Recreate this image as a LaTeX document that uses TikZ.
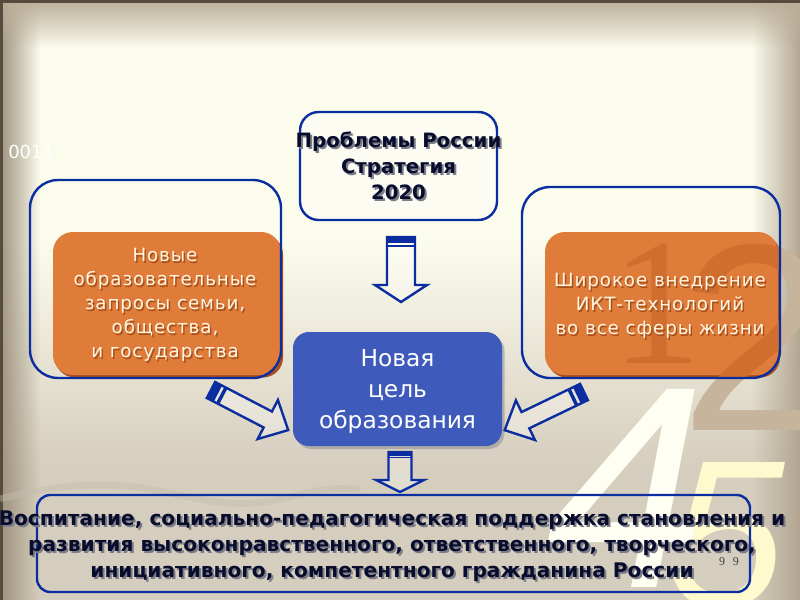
\documentclass[tikz,border=0pt]{standalone}
\usepackage{fontspec}
\setmainfont{DejaVu Sans}
\newfontfamily\digfont{Liberation Sans}
\newfontfamily\serfont{Liberation Serif}
\newfontfamily\orfont[LetterSpace=5]{DejaVu Sans}
\usetikzlibrary{fadings}
\definecolor{cream}{RGB}{252,252,237}
\definecolor{bgbot}{RGB}{213,205,189}
\definecolor{edgeL}{RGB}{158,146,126}
\definecolor{edgeR}{RGB}{178,166,146}
\definecolor{edgeT}{RGB}{186,174,152}
\definecolor{frameDark}{RGB}{85,75,62}
\definecolor{bblue}{RGB}{12,45,160}
\definecolor{cblue}{RGB}{62,90,186}
\definecolor{orangeC}{RGB}{223,124,58}
\definecolor{orangeD}{RGB}{208,110,48}
\definecolor{orangeS}{RGB}{168,80,28}
\definecolor{navy}{RGB}{8,12,45}
\definecolor{tshadow}{RGB}{125,125,135}
\definecolor{otext}{RGB}{255,246,226}
\definecolor{tan}{RGB}{198,181,156}
\definecolor{lightdig}{RGB}{255,254,242}
\definecolor{yellowdig}{RGB}{255,250,205}
\definecolor{wavecol}{RGB}{196,188,172}
\tikzfading[name=fadeR, left color=transparent!0, right color=transparent!100]
\tikzfading[name=fadeL, left color=transparent!100, right color=transparent!0]
\tikzfading[name=fadeD, top color=transparent!0, bottom color=transparent!100]
\tikzset{
  outl/.style={draw=bblue, line width=1.8pt, inner sep=0pt},
  arrowline/.style={draw=bblue, line width=1.8pt, line join=miter},
  boldtext/.style={font={\bfseries\fontsize{14.8}{19.5}\selectfont}, align=center, inner sep=0pt},
  bigboldtext/.style={font={\bfseries\fontsize{15.1}{19.5}\selectfont}, align=center, inner sep=0pt},
  orangetext/.style={font={\orfont\fontsize{13.7}{18}\selectfont}, align=center, inner sep=0pt},
  centertext/.style={font={\fontsize{17.5}{23.2}\selectfont}, align=center, inner sep=0pt},
  digit/.style={inner sep=0pt, anchor=base west}
}
\newcommand\stripearrow[6]{%
  \begin{scope}[shift={(#1)},rotate=#2]
    \fill[white,opacity=.3] (0,{-#4/2}) -- ({#3-#6},{-#4/2}) -- ({#3-#6},{-#5/2}) -- (#3,0) -- ({#3-#6},{#5/2}) -- ({#3-#6},{#4/2}) -- (0,{#4/2}) -- cycle;
    \fill[bblue] (0,{-#4/2}) rectangle ({0.09*#3},{#4/2});
    \fill[bblue] ({0.12*#3},{-#4/2}) rectangle ({0.16*#3},{#4/2});
    \path[arrowline] (0,{-#4/2}) -- ({#3-#6},{-#4/2}) -- ({#3-#6},{-#5/2}) -- (#3,0) -- ({#3-#6},{#5/2}) -- ({#3-#6},{#4/2}) -- (0,{#4/2}) -- cycle;
  \end{scope}}
\begin{document}
\begin{tikzpicture}[x=0.75pt,y=-0.75pt]
\useasboundingbox (0,0) rectangle (800,600);
% background
\fill[cream] (0,0) rectangle (800,600);
\shade[top color=cream, bottom color=bgbot] (0,240) rectangle (800,470);
\fill[bgbot] (0,470) rectangle (800,600);
\fill[edgeL, path fading=fadeR] (0,0) rectangle (40,600);
\fill[edgeR, path fading=fadeL] (752,0) rectangle (800,600);
\fill[edgeT, path fading=fadeD] (0,0) rectangle (800,48);
\fill[frameDark] (0,0) rectangle (800,2.5);
\fill[frameDark] (0,0) rectangle (2.5,600);
% faint wave
\draw[wavecol, line width=5pt, opacity=.45] (0,499) .. controls (50,486) and (100,480) .. (155,490) .. controls (200,500) and (240,510) .. (285,498) .. controls (315,490) and (340,486) .. (360,490);
% decorative digits
\node[digit, text=tan, font={\serfont\fontsize{136}{136}\selectfont}] (dOne) at (611,363) {1};
\node[digit, text=tan, font={\digfont\fontsize{200}{200}\selectfont}] (dTwo) at (680,430) {2};
\node[digit, text=yellowdig, font={\digfont\itshape\fontsize{157}{157}\selectfont}] (dFive) at (668,606) {5};
\node[digit, text=lightdig, font={\digfont\itshape\fontsize{216}{216}\selectfont}] (dFour) at (546,587) {4};
\node[text=white, font={\fontsize{13.5}{15}\selectfont}, inner sep=0pt, anchor=west] (code) at (8,152) {0011};
% left group
\node[outl, draw=none, fill=orangeS, rounded corners=15pt, minimum width=171pt, minimum height=107.25pt] (loS) at (169,306) {};
\node[outl, draw=none, fill=orangeC, rounded corners=15pt, minimum width=171pt, minimum height=107.25pt] (lo) at (167,303.5) {};
\node[outl, rounded corners=21pt, minimum width=188.25pt, minimum height=148.5pt] (lb) at (155.5,279) {};
% right group
\node[outl, draw=none, fill=orangeS, rounded corners=15pt, minimum width=174.75pt, minimum height=107.25pt] (roS) at (663.5,306) {};
\node[outl, draw=none, fill=orangeC, rounded corners=15pt, minimum width=174.75pt, minimum height=107.25pt] (ro) at (661.5,303.5) {};
\begin{scope}
  \clip[rounded corners=15pt] (ro.south west) rectangle (ro.north east);
  \node[digit, text=orangeD, font={\serfont\fontsize{136}{136}\selectfont}] (dOneB) at (611,363) {1};
  \node[digit, text=orangeD, font={\digfont\fontsize{200}{200}\selectfont}] (dTwoB) at (680,430) {2};
\end{scope}
\node[outl, rounded corners=21pt, minimum width=193.5pt, minimum height=143.25pt] (rb) at (651,282.5) {};
% top box
\node[outl, fill=white, fill opacity=.3, rounded corners=14pt, minimum width=147.75pt, minimum height=81pt] (tb) at (398.5,166) {};
% center box
\node[inner sep=0pt, fill=tshadow, opacity=.45, rounded corners=12pt, minimum width=156.75pt, minimum height=85.5pt] (cbS) at (400,392) {};
\node[inner sep=0pt, fill=cblue, rounded corners=12pt, minimum width=156.75pt, minimum height=85.5pt] (cb) at (397.5,389) {};
% bottom box
\node[outl, rounded corners=10pt, minimum width=534.75pt, minimum height=72.75pt] (bb) at (393.5,543.5) {};
% block arrows
\coordinate (a1) at (401,237);
\coordinate (a2) at (400,452);
\coordinate (a3) at (211,390);
\coordinate (a4) at (584,392);
\stripearrow{a1}{-90}{65}{28}{52}{17}
\stripearrow{a2}{-90}{40}{23}{48}{12}
\stripearrow{a3}{-27.45}{87}{18}{44}{23}
\stripearrow{a4}{205.7}{88}{18}{44}{23}
% texts
\node[boldtext, text=tshadow] (ttS) at (400.5,168) {Проблемы России\\Стратегия\\2020};
\node[boldtext, text=navy] (tt) at (398.5,166) {Проблемы России\\Стратегия\\2020};
\node[orangetext, text=orangeS] (ltS) at (166.5,306.5) {Новые\\образовательные\\запросы семьи,\\общества,\\и государства};
\node[orangetext, text=otext] (lt) at (165,305) {Новые\\образовательные\\запросы семьи,\\общества,\\и государства};
\node[orangetext, text=orangeS] (rtS) at (661.5,307.5) {Широкое внедрение\\ИКТ-технологий\\во все сферы жизни};
\node[orangetext, text=otext] (rt) at (660,306) {Широкое внедрение\\ИКТ-технологий\\во все сферы жизни};
\node[centertext, text=white] (ct) at (397.5,391) {Новая\\цель\\образования};
\node[bigboldtext, text=tshadow] (btS) at (394,548) {Воспитание, социально-педагогическая поддержка становления и\\развития высоконравственного, ответственного, творческого,\\инициативного, компетентного гражданина России};
\node[bigboldtext, text=navy] (bt) at (392,546) {Воспитание, социально-педагогическая поддержка становления и\\развития высоконравственного, ответственного, творческого,\\инициативного, компетентного гражданина России};
\node[text=black!75, font={\serfont\fontsize{9}{10}\selectfont}, inner sep=0pt] (nn) at (729,562) {9\hspace{6pt}9};
\end{tikzpicture}
\end{document}
